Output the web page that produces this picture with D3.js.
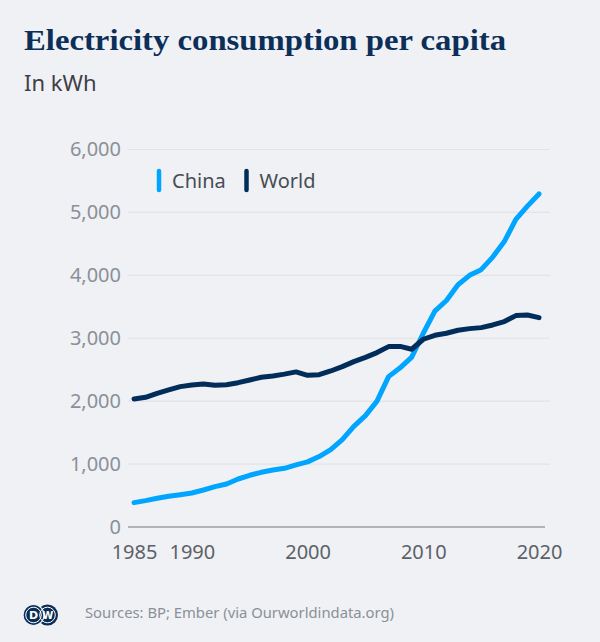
<!DOCTYPE html>
<html>
<head>
<meta charset="utf-8">
<script src="https://cdn.jsdelivr.net/npm/d3@7"></script>
<style>
  html, body { margin: 0; padding: 0; background: #f0f1f4; }
  svg { display: block; }
</style>
</head>
<body>
<script>
const years = d3.range(1985, 2021);
const chinaValues = [387, 419, 456, 488, 514, 540, 588, 641, 684, 763, 822, 869, 906, 933, 986, 1035, 1120, 1230, 1390, 1600, 1770, 2000, 2390, 2530, 2700, 3080, 3430, 3600, 3850, 4000, 4090, 4290, 4536, 4890, 5100, 5294];
const worldValues = [2035, 2062, 2125, 2178, 2231, 2258, 2273, 2252, 2262, 2294, 2337, 2380, 2400, 2430, 2465, 2410, 2420, 2480, 2549, 2628, 2697, 2772, 2867, 2870, 2825, 2984, 3047, 3079, 3127, 3153, 3169, 3211, 3265, 3360, 3370, 3328];
const xTicks = [1985, 1990, 2000, 2010, 2020];
const yTicks = [0, 1000, 2000, 3000, 4000, 5000, 6000];
const seriesNames = ["China", "World"];
const seriesColors = ["#00a5ff", "#002d5a"];

const W = 600, H = 642;
const svg = d3.select("body").append("svg").attr("width", W).attr("height", H);
svg.append("rect").attr("width", W).attr("height", H).attr("fill", "#f0f1f4");

const x = d3.scaleLinear().domain([1985, 2020]).range([134, 539]);
const y = d3.scaleLinear().domain([0, 6000]).range([527, 149.5]);

// Title & subtitle
svg.append("text").attr("x", 24).attr("y", 50)
  .attr("font-family", "'Liberation Serif', serif").attr("font-weight", "bold")
  .attr("font-size", 30).attr("fill", "#0c2f5a")
  .attr("textLength", 482).attr("lengthAdjust", "spacingAndGlyphs")
  .text("Electricity consumption per capita");
svg.append("text").attr("x", 24).attr("y", 91)
  .attr("font-family", "'Noto Sans', sans-serif").attr("font-size", 22)
  .attr("fill", "#3c4046").text("In kWh");

// Grid
svg.append("g").selectAll("line").data(yTicks.filter(d => d > 0)).join("line")
  .attr("x1", 128).attr("x2", 550)
  .attr("y1", d => y(d)).attr("y2", d => y(d))
  .attr("stroke", "#e1e3e7").attr("stroke-width", 1.2);

// Y axis
const yAxis = svg.append("g").attr("transform", "translate(121,0)")
  .call(d3.axisLeft(y).tickValues(yTicks).tickFormat(d3.format(",")).tickSize(0).tickPadding(0));
yAxis.select(".domain").remove();
yAxis.selectAll("text").attr("font-family", "'Noto Sans', sans-serif").attr("font-size", 20)
  .attr("fill", "#8a9099");

// X axis
svg.append("line").attr("x1", 128).attr("x2", 545).attr("y1", y(0)).attr("y2", y(0))
  .attr("stroke", "#9a9ea5").attr("stroke-width", 1.3);
const xAxis = svg.append("g").attr("transform", `translate(0,${y(0)})`)
  .call(d3.axisBottom(x).tickValues(xTicks).tickFormat(d3.format("d")).tickSize(0).tickPadding(18));
xAxis.select(".domain").remove();
xAxis.selectAll("text").attr("font-family", "'Noto Sans', sans-serif").attr("font-size", 20)
  .attr("fill", "#5c6168");

// Lines
const line = d3.line().x((d, i) => x(years[i])).y(d => y(d)).curve(d3.curveLinear);
[chinaValues, worldValues].forEach((vals, k) => {
  svg.append("path").datum(vals).attr("d", line)
    .attr("fill", "none").attr("stroke", seriesColors[k]).attr("stroke-width", 5)
    .attr("stroke-linejoin", "round").attr("stroke-linecap", "round");
});

// Legend
const legendX = [159, 246.5];
seriesNames.forEach((name, k) => {
  svg.append("line").attr("x1", legendX[k]).attr("x2", legendX[k]).attr("y1", 171).attr("y2", 190)
    .attr("stroke", seriesColors[k]).attr("stroke-width", 4.5).attr("stroke-linecap", "round");
  svg.append("text").attr("x", legendX[k] + 13).attr("y", 188)
    .attr("font-family", "'Noto Sans', sans-serif").attr("font-size", 20)
    .attr("fill", "#474c54").text(name);
});

// Footer logo
const logo = svg.append("g");
logo.append("circle").attr("cx", 47.5).attr("cy", 615).attr("r", 10.5).attr("fill", "#0a2d57");
logo.append("circle").attr("cx", 33.5).attr("cy", 615).attr("r", 10.5).attr("fill", "#0a2d57")
  .attr("stroke", "#f0f1f4").attr("stroke-width", 1.2);
logo.append("circle").attr("cx", 33.5).attr("cy", 615).attr("r", 7.8).attr("fill", "none")
  .attr("stroke", "#fff").attr("stroke-width", 1);
logo.append("circle").attr("cx", 47.5).attr("cy", 615).attr("r", 7.8).attr("fill", "none")
  .attr("stroke", "#fff").attr("stroke-width", 1);
logo.append("text").attr("x", 33.5).attr("y", 619).attr("text-anchor", "middle")
  .attr("font-family", "'DejaVu Sans', sans-serif").attr("font-weight", "bold").attr("font-size", 11)
  .attr("fill", "#fff").text("D");
logo.append("text").attr("x", 47.8).attr("y", 619).attr("text-anchor", "middle")
  .attr("font-family", "'DejaVu Sans', sans-serif").attr("font-weight", "bold").attr("font-size", 10)
  .attr("fill", "#fff").text("W");

svg.append("text").attr("x", 85).attr("y", 618)
  .attr("font-family", "'Noto Sans', sans-serif").attr("font-size", 14.8)
  .attr("fill", "#8a9099").text("Sources: BP; Ember (via Ourworldindata.org)");
</script>
</body>
</html>
